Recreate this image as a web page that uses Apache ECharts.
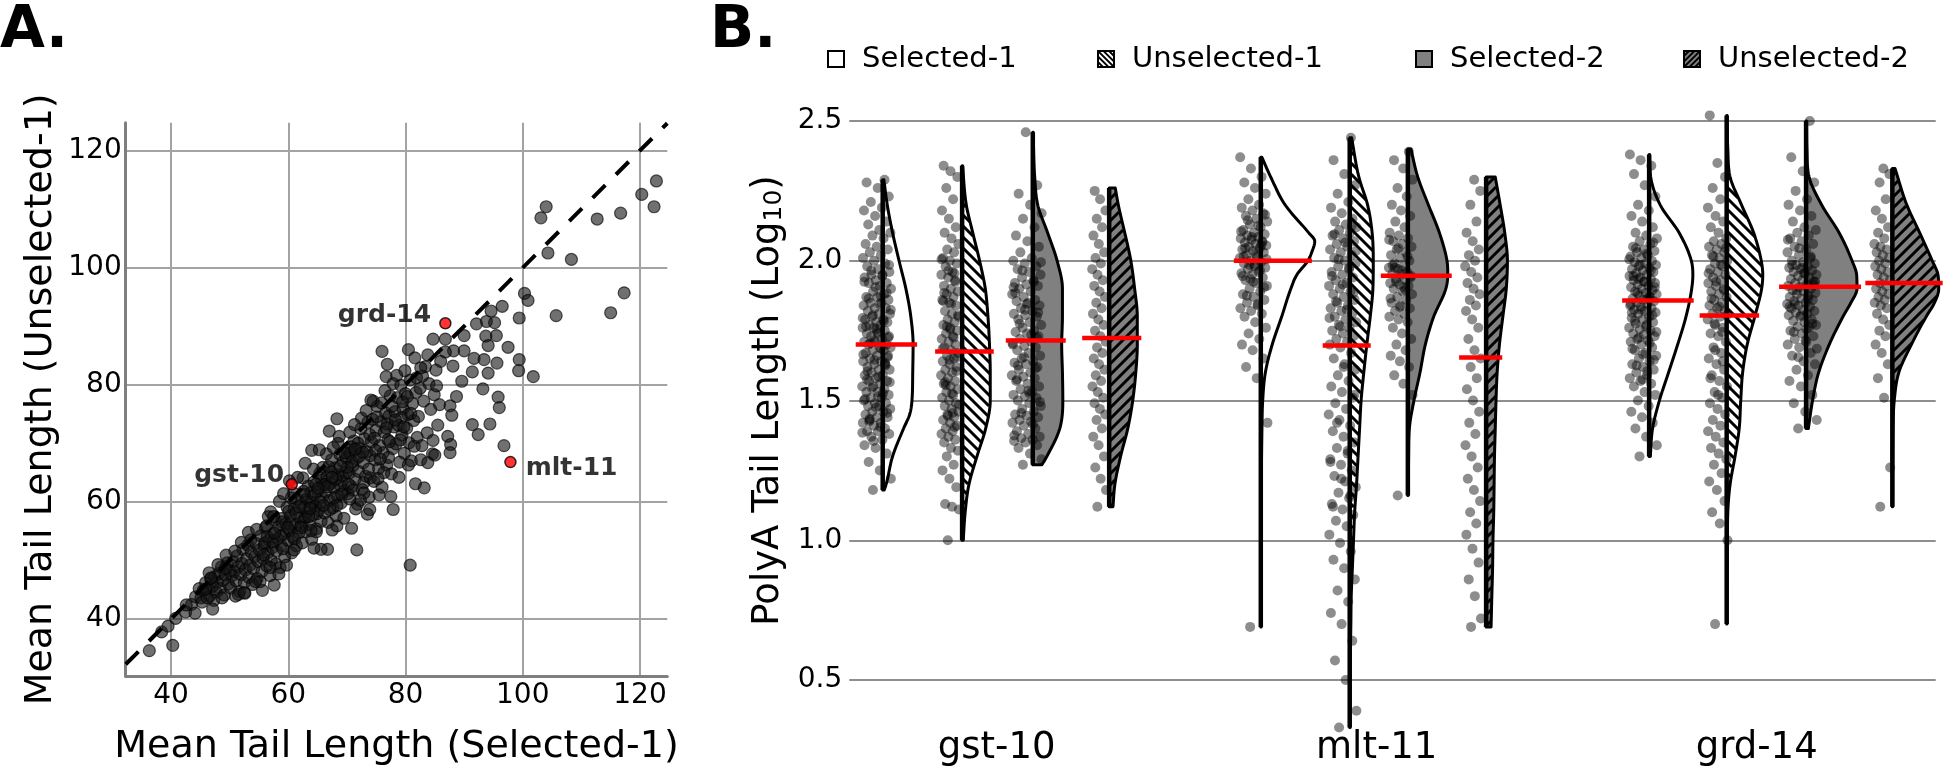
<!DOCTYPE html>
<html><head><meta charset="utf-8">
<script src="https://cdn.jsdelivr.net/npm/echarts@6/dist/echarts.min.js"></script>
<style>html,body{margin:0;padding:0;background:#fff;}#c{width:1952px;height:772px;}</style>
</head><body><div id="c"></div>
<script>
// ================= DATA =================
// ---- Panel A: mean tail length per gene ([Selected-1, Unselected-1]) ----
const SCATTER_POINTS = [
[43.5,42.5],[44.2,43.8],[44.8,45.2],[45.1,43.6],[45.5,44.9],[45.9,46.2],[45.3,42.9],[46.2,45.1],[46.6,43.9],[46.8,46.8],
[47.1,45.6],[47.4,47.2],[47.7,44.6],[47.9,46.3],[48.2,47.8],[48.4,45.2],[48.6,48.9],[48.9,46.6],[49.1,44.1],[49.3,47.5],[49.6,49.6],[49.8,46.0],[50.0,48.3],[47.3,43.2],[48.0,49.3],[49.4,50.9],[46.5,47.9],[48.7,43.6],
[50.2,45.3],[50.4,47.4],[50.6,49.8],[50.8,48.1],[51.1,46.5],[51.3,50.8],[51.5,48.9],[51.7,44.7],[51.9,47.6],[52.1,49.5],[52.3,51.9],[52.5,46.2],[52.7,48.4],[52.9,50.3],[53.1,52.6],[53.3,47.1],[53.5,49.2],[53.7,51.4],[53.9,45.9],[50.9,51.6],[52.0,53.1],[53.6,53.5],[51.0,43.9],[52.6,44.4],[53.2,54.8],
[54.1,48.6],[54.3,50.7],[54.5,52.9],[54.7,46.9],[54.9,49.8],[55.1,51.8],[55.3,54.2],[55.5,48.1],[55.7,50.3],[55.9,52.4],[56.1,55.6],[56.3,49.1],[56.5,51.3],[56.7,53.5],[56.9,47.4],[57.1,50.0],[57.3,52.2],[57.5,54.6],[57.7,56.9],[57.9,49.4],[54.6,55.3],[55.6,44.9],[56.6,57.5],[57.6,45.8],[55.2,46.4],[56.0,53.0],[57.0,58.3],[58.0,51.6],
[58.2,53.7],[58.4,55.8],[58.6,48.8],[58.8,52.6],[59.0,57.2],[59.2,54.5],[59.4,50.6],[59.6,56.3],[59.8,59.1],[60.0,53.4],[60.2,55.1],[60.4,57.6],[60.6,51.3],[60.8,54.0],[61.0,58.8],[61.2,56.0],[61.4,52.5],[61.6,60.4],[61.8,54.7],[62.0,57.3],[58.5,60.1],[60.5,60.7],[59.1,52.0],[60.1,58.4],[61.1,53.7],[62.1,55.9],[58.9,56.6],[60.9,61.5],
[62.2,59.6],[62.4,53.0],[62.6,56.8],[62.8,61.3],[63.0,54.9],[63.2,58.2],[63.4,62.7],[63.6,56.1],[63.8,60.0],[64.0,53.6],[64.2,57.7],[64.4,63.4],[64.6,59.3],[64.8,55.4],[65.0,61.8],[65.2,58.6],[65.4,64.9],[65.6,56.7],[65.8,60.7],[66.0,62.9],[62.5,64.1],[64.3,65.6],[62.9,57.4],[63.9,61.6],[64.9,58.0],[65.9,65.9],[62.3,55.6],[64.1,59.9],[65.7,63.7],[63.1,60.4],
[66.2,58.1],[66.4,61.7],[66.6,64.3],[66.8,56.5],[67.0,60.2],[67.2,63.1],[67.4,67.2],[67.6,59.0],[67.8,62.4],[68.0,65.8],[68.2,57.6],[68.4,61.0],[68.6,64.6],[68.8,68.1],[69.0,59.8],[69.2,63.5],[69.4,66.9],[69.6,61.9],[69.8,65.0],[70.0,69.0],[66.5,68.2],[67.5,55.2],[68.5,70.0],[69.5,57.2],[66.9,66.0],[67.9,60.7],[68.9,62.8],[69.9,67.5],[66.3,63.0],[67.3,65.1],[68.3,59.4],[69.3,64.4],[67.7,69.3],[68.7,71.2],
[70.2,61.4],[70.4,64.9],[70.6,68.3],[70.8,62.6],[71.0,66.1],[71.2,70.4],[71.4,63.9],[71.6,67.4],[71.8,59.6],[72.0,65.2],[72.2,69.2],[72.4,72.5],[72.6,62.1],[72.8,66.7],[73.0,70.8],[73.2,64.4],[73.4,68.6],[73.6,73.6],[73.8,60.8],[74.0,67.9],[70.5,71.9],[71.5,58.8],[72.5,74.3],[73.5,57.9],[70.9,66.9],[71.9,70.0],[72.9,63.3],[73.9,71.5],[70.3,63.0],[71.3,73.2],[72.3,60.3],[73.3,75.6],[74.0,64.1],[72.1,67.8],[70.7,69.4],[73.9,58.7],
[74.2,70.2],[74.4,74.1],[74.6,63.5],[74.8,67.2],[75.0,72.2],[75.2,76.3],[75.4,65.7],[75.6,69.6],[75.8,73.7],[76.0,62.5],[76.2,68.4],[76.4,71.9],[76.6,75.2],[76.8,66.3],[77.0,70.6],[77.2,74.7],[77.4,78.1],[77.6,64.8],[77.8,69.1],[78.0,72.8],[74.5,77.2],[75.5,61.2],[76.5,79.0],[77.5,60.9],[74.9,68.8],[75.9,76.9],[76.9,73.3],[77.9,80.2],[75.3,64.0],[76.3,65.0],[77.1,67.6],[76.7,81.4],
[78.2,75.4],[78.4,69.9],[78.6,77.8],[78.8,73.1],[79.0,66.8],[79.2,79.9],[79.4,71.4],[79.6,75.9],[79.8,68.3],[80.0,78.5],[80.2,72.6],[80.4,74.9],[80.6,70.1],[80.8,80.8],[81.0,67.0],[81.2,76.8],[81.4,73.9],[81.8,78.7],[82.0,71.0],[78.5,81.6],[79.5,77.1],[80.5,66.3],[81.5,69.5],[78.9,64.2],[79.9,82.4],[80.9,75.1],[81.9,81.2],[79.3,74.4],[80.3,78.0],
[82.2,74.6],[82.5,79.4],[82.8,69.6],[83.1,77.2],[83.4,83.1],[83.7,71.8],[84.0,80.2],[84.3,75.8],[84.6,68.2],[84.9,78.3],[85.2,82.5],[85.5,73.1],[85.8,76.6],[82.6,67.2],[83.8,85.1],[84.7,70.5],[85.3,79.8],[86.0,84.0],[82.9,81.5],
[64.0,68.8],[65.3,68.9],[67.0,72.1],[68.3,74.2],[74.1,77.4],[62.9,66.6],[61.6,64.2],[60.2,63.6],[59.2,61.4],
[60.3,56.2],[61.3,58.1],[62.7,59.0],[63.5,57.5],[64.5,61.2],[65.5,60.0],[66.7,62.6],[67.1,58.7],[68.1,63.9],[69.1,61.3],[70.1,65.9],[71.1,62.0],[72.7,68.5],[73.7,65.6],[74.7,70.9],[75.7,67.3],[76.7,72.6],[77.3,70.3],[78.3,74.0],[79.1,70.6],[69.6,68.4],[71.4,69.0],[66.0,59.4],[63.7,58.9],[59.9,55.6],[57.4,53.2],[55.8,51.0],[58.7,54.2],[61.9,59.2],[64.7,63.0],[67.5,64.2],[70.5,60.5],[72.9,61.5],[75.1,74.5],[77.7,76.3],[79.7,72.8],[68.9,66.1],[65.1,62.3],[62.6,61.8],[56.4,54.1],
[122.8,114.8],[120.3,112.5],[122.4,110.4],[104.0,110.4],[103.1,108.5],[112.7,108.3],[116.7,109.3],[104.3,102.5],[108.3,101.4],[117.3,95.7],[115.0,92.3],[105.7,91.8],[100.3,95.6],[100.9,94.4],[99.4,91.4],[96.5,93.4],[94.6,92.6],[93.8,90.8],[95.2,90.6],[92.1,90.4],[95.5,88.4],[93.7,88.3],[94.1,86.7],[97.5,86.4],[91.7,84.5],[93.4,84.3],[95.6,83.7],[94.1,82.0],[99.4,84.3],[99.3,82.4],[101.8,81.4],[90.0,88.4],[90.0,85.8],[88.2,85.8],[86.8,87.8],[84.7,87.8],[86.8,85.6],[88.1,83.2],[89.6,80.6],[91.4,82.2],[93.2,79.3],[95.8,77.9],[96.0,76.1],[91.4,73.2],[92.4,71.5],[94.4,73.3],[96.8,69.6],[88.7,78.0],[87.6,76.4],[87.9,74.8],[87.2,71.2],[87.7,69.8],[87.6,68.4],[85.0,68.0],[83.8,66.7],[81.7,63.1],[83.2,62.4],[77.9,58.7],[80.8,49.2],[71.7,51.8],[66.7,51.9],[65.6,51.9],[64.4,52.1],[64.8,54.9],[63.9,55.1],[68.3,55.9],[70.8,55.5],[76.0,85.7],[76.9,83.5],[80.5,86.0],[81.6,84.6],[82.6,82.9],[36.3,34.6],[40.3,35.5],[38.4,37.8],[39.5,38.8],[40.8,40.1],[42.5,41.2],[44.1,41.0],[42.6,42.4],[47.1,41.7],[46.2,43.6],[45.9,45.1],[46.8,47.0],[49.3,48.7],[51.5,44.2],[52.5,44.5],[54.4,46.4],[58.4,47.7],[59.7,49.2],[56.9,48.8],[61.0,51.8],[57.5,57.5],[56.3,55.9],[57.7,54.7]
];
const HIGHLIGHT_NAMES = ['gst-10', 'grd-14', 'mlt-11'];
const HIGHLIGHT_X = [60.6, 86.8, 97.9];
const HIGHLIGHT_Y = [63.0, 90.5, 66.8];

// ---- Panel B ----
const CATEGORIES = ['gst-10', 'mlt-11', 'grd-14'];
const GROUPS = ['Selected-1', 'Unselected-1', 'Selected-2', 'Unselected-2'];
const Y_TICKS_B = [0.5, 1.0, 1.5, 2.0, 2.5];

// log10 poly(A) tail lengths (strip points)
const PTS_GST10_S1 = [1.18,1.22,1.25,1.28,1.31,1.33,1.34,1.36,1.37,1.38,1.39,1.39,1.40,1.41,1.42,1.42,1.43,1.44,1.44,1.45,1.46,1.46,1.47,1.48,1.48,1.49,1.49,1.50,1.51,1.51,1.52,1.53,1.53,1.54,1.55,1.55,1.56,1.57,1.57,1.58,1.59,1.59,1.60,1.61,1.61,1.62,1.63,1.63,1.64,1.64,1.65,1.66,1.66,1.67,1.68,1.68,1.69,1.69,1.70,1.70,1.71,1.71,1.72,1.73,1.73,1.74,1.74,1.75,1.76,1.76,1.77,1.77,1.78,1.78,1.79,1.79,1.80,1.81,1.81,1.82,1.83,1.83,1.84,1.85,1.85,1.86,1.87,1.87,1.88,1.89,1.90,1.91,1.92,1.92,1.93,1.94,1.95,1.95,1.96,1.97,1.98,1.99,2.00,2.01,2.02,2.03,2.04,2.05,2.06,2.08,2.09,2.10,2.11,2.13,2.14,2.16,2.18,2.19,2.21,2.23,2.26,2.28,2.29,
  1.355,1.385,1.405,1.425,1.455,1.475,1.505,1.525,1.545,1.565,1.585,1.605,1.625,1.645,1.665,1.685,1.705,1.725,1.745,1.765,1.785,1.805,1.825,1.845,1.865,1.885,1.905,1.925,1.945,1.965,1.985,1.515,1.575,1.635,1.715,1.795,1.875,1.435,1.655,1.755];
const PTS_GST10_U1 = [1.00,1.11,1.12,1.13,1.19,1.22,1.25,1.27,1.30,1.32,1.33,1.35,1.36,1.37,1.38,1.39,1.40,1.41,1.42,1.43,1.44,1.45,1.46,1.47,1.48,1.49,1.50,1.51,1.52,1.53,1.54,1.55,1.56,1.57,1.58,1.59,1.60,1.61,1.62,1.63,1.64,1.65,1.66,1.67,1.68,1.69,1.70,1.71,1.72,1.73,1.74,1.75,1.76,1.77,1.78,1.79,1.80,1.81,1.82,1.84,1.85,1.86,1.87,1.88,1.89,1.90,1.91,1.93,1.94,1.95,1.96,1.98,1.99,2.00,2.01,2.03,2.04,2.06,2.08,2.10,2.12,2.15,2.18,2.22,2.26,2.30,2.32,2.34,
  1.405,1.445,1.485,1.525,1.565,1.605,1.645,1.685,1.725,1.765,1.805,1.845,1.885,1.925,1.965,2.005,1.455,1.555,1.655,1.755,1.855,1.955];
const PTS_GST10_S2 = [1.27,1.29,1.31,1.33,1.34,1.35,1.355,1.36,1.365,1.37,1.38,1.39,1.40,1.41,1.42,1.425,1.43,1.44,1.445,1.45,1.46,1.47,1.48,1.49,1.50,1.51,1.515,1.52,1.53,1.54,1.55,1.56,1.57,1.58,1.585,1.59,1.60,1.61,1.62,1.63,1.635,1.64,1.65,1.66,1.67,1.68,1.69,1.695,1.70,1.71,1.72,1.73,1.74,1.745,1.75,1.76,1.77,1.78,1.79,1.80,1.805,1.81,1.82,1.83,1.84,1.85,1.855,1.86,1.87,1.88,1.89,1.90,1.91,1.915,1.92,1.93,1.94,1.95,1.96,1.97,1.98,1.99,2.00,2.01,2.03,2.05,2.07,2.09,2.12,2.15,2.17,2.20,2.24,2.27,2.46,
  1.375,1.415,1.455,1.495,1.535,1.575,1.615,1.655,1.705,1.735,1.775,1.815,1.845,1.885,1.925,1.965,1.995,1.525,1.625,1.725,1.825,1.905];
const PTS_GST10_U2 = [1.12,1.18,1.22,1.26,1.30,1.34,1.37,1.40,1.43,1.45,1.47,1.49,1.51,1.53,1.55,1.57,1.59,1.61,1.63,1.65,1.67,1.69,1.71,1.73,1.75,1.77,1.79,1.81,1.83,1.85,1.87,1.89,1.91,1.93,1.95,1.97,1.99,2.01,2.03,2.06,2.09,2.12,2.15,2.18,2.22,2.25];
const PTS_MLT11_S1 = [0.69,1.42,1.58,1.62,1.65,1.68,1.70,1.72,1.74,1.76,1.78,1.80,1.81,1.82,1.83,1.84,1.85,1.86,1.87,1.88,1.89,1.90,1.91,1.92,1.93,1.94,1.95,1.955,1.96,1.97,1.975,1.98,1.99,1.995,2.00,2.01,2.015,2.02,2.03,2.035,2.04,2.045,2.05,2.055,2.06,2.065,2.07,2.075,2.08,2.085,2.09,2.095,2.10,2.11,2.12,2.13,2.14,2.15,2.16,2.17,2.18,2.19,2.20,2.22,2.24,2.26,2.28,2.30,2.33,2.37,
  1.845,1.875,1.905,1.925,1.945,1.965,1.985,2.005,2.025,2.045,2.065,2.085,2.105,2.125,2.145,2.165,1.985,2.015,2.055,1.935];
const PTS_MLT11_U1 = [0.33,0.39,0.50,0.57,0.64,0.70,0.74,0.78,0.82,0.86,0.90,0.93,0.96,0.99,1.02,1.05,1.07,1.09,1.11,1.13,1.15,1.17,1.19,1.21,1.23,1.25,1.27,1.29,1.31,1.33,1.35,1.37,1.39,1.41,1.43,1.45,1.47,1.49,1.51,1.53,1.55,1.57,1.59,1.61,1.63,1.65,1.67,1.69,1.70,1.71,1.72,1.73,1.74,1.75,1.76,1.77,1.78,1.79,1.80,1.81,1.82,1.83,1.84,1.85,1.86,1.87,1.88,1.89,1.90,1.91,1.92,1.93,1.94,1.95,1.96,1.97,1.98,1.99,2.00,2.01,2.02,2.03,2.04,2.05,2.06,2.07,2.08,2.09,2.10,2.11,2.12,2.13,2.14,2.15,2.17,2.19,2.21,2.24,2.27,2.31,2.36,2.44,
  1.765,1.795,1.825,1.855,1.885,1.915,1.945,1.975,2.005,2.035,2.065,2.095,2.125,1.22,1.28,1.32,1.42,1.52,1.62,1.12,1.16];
const PTS_MLT11_S2 = [1.16,1.52,1.56,1.59,1.62,1.64,1.66,1.68,1.70,1.72,1.74,1.76,1.78,1.79,1.80,1.81,1.82,1.83,1.84,1.85,1.86,1.87,1.88,1.89,1.90,1.91,1.915,1.92,1.93,1.935,1.94,1.95,1.955,1.96,1.97,1.975,1.98,1.99,2.00,2.01,2.02,2.03,2.04,2.05,2.06,2.07,2.08,2.09,2.10,2.12,2.14,2.16,2.18,2.20,2.23,2.26,2.29,2.33,2.36,2.39,
  1.835,1.865,1.895,1.925,1.945,1.965,1.985,2.015,2.045,2.075,1.905,1.975];
const PTS_MLT11_U2 = [0.69,0.72,0.80,0.86,0.92,0.97,1.02,1.06,1.10,1.14,1.18,1.22,1.26,1.30,1.34,1.38,1.42,1.46,1.50,1.54,1.58,1.62,1.65,1.68,1.72,1.76,1.79,1.82,1.84,1.86,1.88,1.90,1.92,1.94,1.96,1.98,2.00,2.02,2.04,2.07,2.10,2.14,2.20,2.25,2.29];
const PTS_GRD14_S1 = [1.30,1.34,1.37,1.40,1.42,1.44,1.46,1.48,1.50,1.52,1.53,1.55,1.56,1.57,1.58,1.59,1.60,1.61,1.62,1.63,1.64,1.65,1.66,1.67,1.68,1.69,1.70,1.71,1.715,1.72,1.73,1.735,1.74,1.75,1.755,1.76,1.77,1.775,1.78,1.79,1.795,1.80,1.81,1.815,1.82,1.825,1.83,1.835,1.84,1.845,1.85,1.855,1.86,1.865,1.87,1.875,1.88,1.885,1.89,1.895,1.90,1.905,1.91,1.915,1.92,1.925,1.93,1.935,1.94,1.945,1.95,1.955,1.96,1.965,1.97,1.975,1.98,1.985,1.99,1.995,2.00,2.01,2.015,2.02,2.03,2.035,2.04,2.05,2.06,2.07,2.08,2.09,2.10,2.12,2.14,2.16,2.18,2.20,2.23,2.27,2.31,2.34,2.36,2.38,
  1.605,1.625,1.645,1.665,1.685,1.705,1.725,1.745,1.765,1.785,1.805,1.825,1.845,1.865,1.885,1.905,1.925,1.945,1.965,1.985,2.005,2.025,2.045,2.065,1.575,1.815,1.875,1.935];
const PTS_GRD14_U1 = [0.70,1.00,1.06,1.10,1.14,1.18,1.21,1.24,1.27,1.29,1.31,1.33,1.35,1.37,1.39,1.41,1.43,1.45,1.47,1.49,1.51,1.53,1.55,1.57,1.59,1.61,1.63,1.65,1.67,1.69,1.71,1.73,1.74,1.76,1.77,1.79,1.80,1.81,1.82,1.83,1.84,1.85,1.86,1.87,1.88,1.89,1.90,1.91,1.92,1.93,1.94,1.95,1.96,1.97,1.98,1.99,2.00,2.01,2.02,2.03,2.04,2.05,2.06,2.07,2.08,2.10,2.12,2.14,2.16,2.19,2.22,2.26,2.30,2.35,2.52,
  1.745,1.775,1.805,1.835,1.865,1.895,1.925,1.955,1.985,2.015,2.045,1.52,1.58,1.64,1.68];
const PTS_GRD14_S2 = [1.40,1.43,1.46,1.49,1.52,1.55,1.57,1.59,1.61,1.63,1.64,1.66,1.67,1.69,1.70,1.71,1.72,1.73,1.74,1.75,1.76,1.765,1.77,1.78,1.785,1.79,1.80,1.805,1.81,1.815,1.82,1.825,1.83,1.835,1.84,1.845,1.85,1.855,1.86,1.865,1.87,1.875,1.88,1.885,1.89,1.895,1.90,1.905,1.91,1.915,1.92,1.925,1.93,1.935,1.94,1.945,1.95,1.955,1.96,1.965,1.97,1.975,1.98,1.985,1.99,1.995,2.00,2.01,2.02,2.03,2.04,2.05,2.06,2.07,2.08,2.09,2.10,2.11,2.12,2.14,2.16,2.18,2.20,2.22,2.25,2.28,2.32,2.37,2.50,
  1.655,1.685,1.715,1.745,1.775,1.805,1.835,1.865,1.895,1.925,1.955,1.985,2.015,2.045,2.075,1.755,1.845,1.915,1.975];
const PTS_GRD14_U2 = [1.12,1.26,1.51,1.58,1.63,1.67,1.70,1.73,1.75,1.77,1.79,1.81,1.83,1.84,1.85,1.86,1.87,1.88,1.89,1.90,1.91,1.92,1.93,1.94,1.95,1.96,1.97,1.98,1.99,2.00,2.01,2.02,2.03,2.04,2.05,2.06,2.08,2.10,2.12,2.15,2.18,2.22,2.28,2.31,2.33];

// violin density profiles: [log10 length, half-width in category units]
const VIO_GST10_S1 = [[1.18,.004],[1.2,.009],[1.3,.026],[1.4,.055],[1.45,.071],[1.5,.077],[1.6,.079],[1.7,.080],[1.8,.074],[1.9,.061],[2.0,.043],[2.1,.026],[2.2,.012],[2.29,.003]];
const VIO_GST10_U1 = [[1.0,.003],[1.1,.008],[1.2,.018],[1.3,.039],[1.4,.062],[1.5,.074],[1.6,.074],[1.7,.072],[1.8,.068],[1.9,.061],[2.0,.046],[2.1,.028],[2.2,.011],[2.34,.001]];
const VIO_GST10_S2 = [[1.27,.024],[1.3,.037],[1.4,.071],[1.5,.079],[1.6,.078],[1.7,.076],[1.8,.078],[1.9,.078],[2.0,.064],[2.1,.039],[2.2,.013],[2.3,.005],[2.46,.001]];
const VIO_GST10_U2 = [[1.12,.010],[1.2,.015],[1.3,.030],[1.4,.049],[1.5,.062],[1.6,.070],[1.7,.074],[1.8,.074],[1.9,.067],[2.0,.057],[2.1,.041],[2.2,.024],[2.26,.016]];
const VIO_MLT11_S1 = [[0.69,.001],[1.0,.001],[1.4,.003],[1.5,.005],[1.6,.012],[1.7,.030],[1.8,.055],[1.9,.079],[1.95,.095],[2.0,.124],[2.03,.134],[2.07,.142],[2.1,.126],[2.2,.064],[2.3,.026],[2.37,.003]];
const VIO_MLT11_U1 = [[0.33,.001],[0.5,.001],[0.7,.003],[0.8,.004],[0.9,.007],[1.0,.010],[1.1,.013],[1.2,.018],[1.3,.022],[1.4,.026],[1.5,.030],[1.6,.037],[1.7,.045],[1.8,.054],[1.9,.061],[2.0,.062],[2.1,.059],[2.2,.047],[2.3,.024],[2.44,.005]];
const VIO_MLT11_S2 = [[1.16,.001],[1.3,.002],[1.4,.004],[1.5,.016],[1.6,.032],[1.7,.046],[1.8,.068],[1.9,.100],[1.95,.105],[2.0,.103],[2.1,.083],[2.2,.054],[2.3,.026],[2.40,.008]];
const VIO_MLT11_U2 = [[0.69,.013],[0.8,.015],[0.9,.017],[1.0,.018],[1.1,.020],[1.2,.021],[1.3,.022],[1.4,.024],[1.5,.026],[1.6,.029],[1.7,.035],[1.8,.044],[1.9,.053],[2.0,.056],[2.1,.049],[2.2,.037],[2.30,.024]];
const VIO_GRD14_S1 = [[1.3,.003],[1.4,.009],[1.5,.027],[1.6,.051],[1.7,.075],[1.8,.097],[1.9,.112],[1.95,.115],[2.0,.111],[2.1,.079],[2.2,.029],[2.3,.004],[2.38,.001]];
const VIO_GRD14_U1 = [[0.7,.001],[1.0,.002],[1.1,.003],[1.2,.009],[1.3,.022],[1.4,.033],[1.5,.037],[1.6,.042],[1.7,.054],[1.8,.074],[1.9,.092],[1.95,.095],[2.0,.091],[2.1,.071],[2.2,.039],[2.3,.009],[2.4,.003],[2.52,.001]];
const VIO_GRD14_S2 = [[1.4,.006],[1.5,.017],[1.6,.033],[1.7,.061],[1.8,.097],[1.85,.118],[1.9,.134],[1.95,.133],[2.0,.121],[2.1,.087],[2.2,.041],[2.3,.008],[2.4,.002],[2.50,.001]];
const VIO_GRD14_U2 = [[1.12,.001],[1.4,.002],[1.5,.005],[1.6,.017],[1.7,.050],[1.8,.089],[1.85,.111],[1.9,.122],[1.95,.120],[2.0,.105],[2.1,.072],[2.2,.038],[2.33,.007]];

// medians (log10), per category [gst-10, mlt-11, grd-14]
const MEDIAN_S1 = [1.700, 2.000, 1.858];
const MEDIAN_U1 = [1.675, 1.697, 1.804];
const MEDIAN_S2 = [1.715, 1.946, 1.907];
const MEDIAN_U2 = [1.724, 1.654, 1.920];

// ================= LAYOUT / STYLE =================
const FONT = 'DejaVu Sans';
const A_GRID = {left: 125.7, top: 122.7, width: 541.6, height: 553.3};
const A_X = [32.27, 124.66], A_Y = [30.27, 124.75];
const B_GRID = {left: 849.3, top: 121, width: 1086.4, height: 559};
const B_X = [-0.3879, 2.4711];
const B_UNIT_PX = B_GRID.width / (B_X[1] - B_X[0]);
const C_GRID = {left: 806.7, top: 121, width: 1140, height: 559};
const HUE_OFFSETS = [[-0.300,-0.091,0.095,0.296],[-0.305,-0.071,0.082,0.288],[-0.283,-0.079,0.130,0.357]];
const STRIP_LAYOUT = [[[-6,14.5],[-12,9],[-6,15],[-10,7]],[[-7,14],[-7,14],[-7,12],[-13,8]],[[-6,14],[-9,10],[-4,15],[-10,8]]];
const FILLS = ['#ffffff', '#ffffff', '#808080', '#808080'];
const HATCH = [null, '\\', null, '/'];
const HATCH_SPACING = 11;
const LEGEND_X = [828, 1098, 1416, 1684];
const LEGEND_Y = 59, LEGEND_SQ = 16;
const LBL_POS = ['left', 'left', 'right'], LBL_DIST = [1.5, 8, 9], LBL_OFF = [[0,-8.5],[0,-8],[0,6]];

const PROFILES = [
  [VIO_GST10_S1, VIO_MLT11_S1, VIO_GRD14_S1],
  [VIO_GST10_U1, VIO_MLT11_U1, VIO_GRD14_U1],
  [VIO_GST10_S2, VIO_MLT11_S2, VIO_GRD14_S2],
  [VIO_GST10_U2, VIO_MLT11_U2, VIO_GRD14_U2]];
const STRIPS = [
  [PTS_GST10_S1, PTS_MLT11_S1, PTS_GRD14_S1],
  [PTS_GST10_U1, PTS_MLT11_U1, PTS_GRD14_U1],
  [PTS_GST10_S2, PTS_MLT11_S2, PTS_GRD14_S2],
  [PTS_GST10_U2, PTS_MLT11_U2, PTS_GRD14_U2]];
const MEDIANS = [MEDIAN_S1, MEDIAN_U1, MEDIAN_S2, MEDIAN_U2];

function hermite(prof) {
  const n = prof.length, ys = prof.map(p => p[0]), ws = prof.map(p => p[1]);
  const d = [], m = new Array(n);
  for (let i = 0; i < n - 1; i++) d.push((ws[i+1] - ws[i]) / (ys[i+1] - ys[i]));
  m[0] = d[0]; m[n-1] = d[n-2];
  for (let i = 1; i < n - 1; i++) m[i] = (d[i-1] * d[i] <= 0) ? 0 : (d[i-1] + d[i]) / 2;
  for (let i = 0; i < n - 1; i++) {
    if (d[i] === 0) { m[i] = 0; m[i+1] = 0; continue; }
    const a = m[i] / d[i], b = m[i+1] / d[i], s = a*a + b*b;
    if (s > 9) { const t = 3 / Math.sqrt(s); m[i] = t*a*d[i]; m[i+1] = t*b*d[i]; }
  }
  return function (y) {
    if (y <= ys[0]) return ws[0];
    if (y >= ys[n-1]) return ws[n-1];
    let i = 0; while (y > ys[i+1]) i++;
    const h = ys[i+1] - ys[i], t = (y - ys[i]) / h, t2 = t*t, t3 = t2*t;
    return (2*t3 - 3*t2 + 1)*ws[i] + (t3 - 2*t2 + t)*h*m[i] + (-2*t3 + 3*t2)*ws[i+1] + (t3 - t2)*h*m[i+1];
  };
}
const PROFILE_FN = PROFILES.map(row => row.map(hermite));

function violinRender(h) {
  return function (params, api) {
    const ci = api.value(0);
    const prof = PROFILES[h][ci], f = PROFILE_FN[h][ci];
    const xc = ci + HUE_OFFSETS[ci][h];
    const yLo = prof[0][0], yHi = prof[prof.length-1][0];
    const pTop = api.coord([xc, yHi]), pBot = api.coord([xc, yLo]);
    const cx = pTop[0];
    const sx = api.size([1, 0])[0];
    const n = Math.max(2, Math.ceil((pBot[1] - pTop[1]) / 1.5));
    const edge = [];
    for (let k = 0; k <= n; k++) {
      const y = yHi - (yHi - yLo) * k / n;
      edge.push([cx + Math.max(0, f(y)) * sx, api.coord([xc, y])[1]]);
    }
    const poly = [[cx, pTop[1]]].concat(edge, [[cx, pBot[1]]]);
    const children = [{type: 'polygon', shape: {points: poly}, style: {fill: FILLS[h], stroke: null}}];
    if (HATCH[h]) {
      const y0 = Math.ceil(pTop[1]), y1 = Math.floor(pBot[1]);
      const R = []; let j = 0, maxR = cx;
      for (let py = y0; py <= y1; py++) {
        while (j < edge.length - 2 && edge[j+1][1] < py) j++;
        const a = edge[j], b = edge[j+1];
        const t = b[1] === a[1] ? 0 : (py - a[1]) / (b[1] - a[1]);
        const r = a[0] + (b[0] - a[0]) * Math.min(1, Math.max(0, t));
        R.push(r); if (r > maxR) maxR = r;
      }
      const S = HATCH_SPACING, sign = HATCH[h] === '\\' ? 1 : -1;
      const bStart = sign === 1 ? cx - y1 : cx + y0;
      const bEnd = sign === 1 ? maxR - y0 : maxR + y1;
      const pushSeg = (s, e) => { if (e[1] - s[1] >= 1) children.push({type: 'line', shape: {x1: s[0], y1: s[1], x2: e[0], y2: e[1]}, style: {stroke: '#000', lineWidth: 3}}); };
      for (let bb = Math.floor(bStart / S) * S; bb <= bEnd; bb += S) {
        let s = null, last = null;
        for (let py = y0; py <= y1; py++) {
          const x = bb + sign * py;
          if (x >= cx && x <= R[py - y0]) { if (!s) s = [x, py]; last = [x, py]; }
          else if (s) { pushSeg(s, last); s = null; }
        }
        if (s) pushSeg(s, last);
      }
    }
    children.push({type: 'polygon', shape: {points: poly}, style: {fill: 'none', stroke: '#000', lineWidth: 3, lineJoin: 'round'}});
    children.push({type: 'line', shape: {x1: cx, y1: pTop[1], x2: cx, y2: pBot[1]}, style: {stroke: '#000', lineWidth: 4.5}});
    return {type: 'group', children: children};
  };
}

function jit(i) { const v = (i * 0.6180339887 + 0.37) % 1; return v * 2 - 1; }

const series = [];
series.push({type: 'scatter', xAxisIndex: 0, yAxisIndex: 0, z: 2, symbolSize: 12,
  data: SCATTER_POINTS,
  itemStyle: {color: 'rgba(20,20,20,0.76)', borderColor: 'rgba(0,0,0,0.8)', borderWidth: 1.2}, silent: true});
series.push({type: 'line', xAxisIndex: 0, yAxisIndex: 0, z: 3, symbol: 'none', silent: true,
  data: [[A_X[0], A_X[0]], [A_X[1], A_X[1]]],
  lineStyle: {color: '#000', width: 4, type: [18, 15]}});
series.push({type: 'scatter', xAxisIndex: 0, yAxisIndex: 0, z: 4, symbolSize: 11, silent: true,
  data: HIGHLIGHT_NAMES.map((nm, i) => ({name: nm, value: [HIGHLIGHT_X[i], HIGHLIGHT_Y[i]],
    label: {position: LBL_POS[i], distance: LBL_DIST[i], offset: LBL_OFF[i]}})),
  itemStyle: {color: '#ff0000', borderColor: '#000', borderWidth: 1.5},
  label: {show: true, formatter: '{b}', fontSize: 25, fontWeight: 'bold', color: '#000', fontFamily: FONT}});
for (let h = 0; h < 4; h++) {
  series.push({type: 'custom', name: GROUPS[h], xAxisIndex: 1, yAxisIndex: 1, z: 2, silent: true,
    renderItem: violinRender(h), data: CATEGORIES.map((c, i) => [i, 1.5]), encode: {x: 0, y: 1}});
}
for (let h = 0; h < 4; h++) {
  const data = [];
  for (let ci = 0; ci < 3; ci++) {
    const arr = STRIPS[h][ci], L = STRIP_LAYOUT[ci][h];
    arr.forEach((v, i) => data.push([ci + HUE_OFFSETS[ci][h] + (L[0] + L[1] * jit(i)) / B_UNIT_PX, v]));
  }
  series.push({type: 'scatter', xAxisIndex: 1, yAxisIndex: 1, z: 3, symbolSize: 10, clip: false, silent: true,
    data: data, itemStyle: {color: 'rgba(0,0,0,0.56)', borderWidth: 0}});
}
const medData = [];
for (let h = 0; h < 4; h++) for (let ci = 0; ci < 3; ci++) medData.push([ci, MEDIANS[h][ci], h]);
series.push({type: 'custom', xAxisIndex: 1, yAxisIndex: 1, z: 4, silent: true, data: medData, encode: {x: 0, y: 1},
  renderItem: function (params, api) {
    const ci = api.value(0), med = api.value(1), h = api.value(2);
    const p = api.coord([ci + HUE_OFFSETS[ci][h], med]);
    const w = PROFILE_FN[h][ci](med) * api.size([1, 0])[0];
    return {type: 'line', shape: {x1: p[0] - 27, y1: p[1], x2: p[0] + w + 4, y2: p[1]}, style: {stroke: '#ff0000', lineWidth: 4.5}};
  }});

const graphics = [];
GROUPS.forEach((g, i) => {
  const x = LEGEND_X[i], y = LEGEND_Y - LEGEND_SQ / 2, S = LEGEND_SQ;
  graphics.push({type: 'rect', shape: {x: x, y: y, width: S, height: S}, style: {fill: FILLS[i], stroke: null}});
  if (HATCH[i] === '\\') {
    for (let c = -S + 5; c < S; c += 5.5) {
      const xa = Math.max(0, c), xb = Math.min(S, S + c);
      graphics.push({type: 'line', shape: {x1: x + xa, y1: y + xa - c, x2: x + xb, y2: y + xb - c}, style: {stroke: '#000', lineWidth: 1.8}});
    }
  } else if (HATCH[i] === '/') {
    for (let c = 5; c < 2 * S; c += 5.5) {
      const xa = Math.max(0, c - S), xb = Math.min(S, c);
      graphics.push({type: 'line', shape: {x1: x + xa, y1: y + c - xa, x2: x + xb, y2: y + c - xb}, style: {stroke: '#000', lineWidth: 1.8}});
    }
  }
  graphics.push({type: 'rect', shape: {x: x, y: y, width: S, height: S}, style: {fill: 'none', stroke: '#000', lineWidth: 2}});
  graphics.push({type: 'text', x: x + 34, y: LEGEND_Y, style: {text: g, fontSize: 29, fontFamily: FONT, fill: '#000',
    verticalAlign: 'middle', textVerticalAlign: 'middle', align: 'left', textAlign: 'left'}});
});

const tickLabel = {fontSize: 28, color: '#000', fontFamily: FONT};
const option = {
  animation: false,
  backgroundColor: '#ffffff',
  textStyle: {fontFamily: FONT},
  title: [
    {text: 'A.', left: 0, top: 3, padding: 0, textStyle: {fontSize: 58, fontWeight: 'bold', color: '#000', fontFamily: FONT}},
    {text: 'B.', left: 710, top: 3, padding: 0, textStyle: {fontSize: 58, fontWeight: 'bold', color: '#000', fontFamily: FONT}}
  ],
  grid: [
    Object.assign({outerBoundsMode: 'none', containLabel: false}, A_GRID),
    Object.assign({outerBoundsMode: 'none', containLabel: false}, B_GRID),
    Object.assign({outerBoundsMode: 'none', containLabel: false}, C_GRID)
  ],
  xAxis: [
    {gridIndex: 0, type: 'value', min: A_X[0], max: A_X[1], splitNumber: 5,
      axisLine: {show: true, onZero: false, lineStyle: {color: '#7f7f7f', width: 3}}, axisTick: {show: false},
      axisLabel: Object.assign({margin: 6, showMinLabel: false, showMaxLabel: false}, tickLabel),
      splitLine: {show: true, showMinLine: false, showMaxLine: false, lineStyle: {color: '#a3a3a3', width: 2}},
      name: 'Mean Tail Length (Selected-1)', nameLocation: 'middle', nameGap: 52,
      nameTextStyle: {fontSize: 38, color: '#000', fontFamily: FONT}},
    {gridIndex: 1, type: 'value', min: B_X[0], max: B_X[1], show: false},
    {gridIndex: 2, type: 'category', data: CATEGORIES, boundaryGap: true,
      axisLine: {show: false}, axisTick: {show: false}, splitLine: {show: false},
      axisLabel: {fontSize: 37, color: '#000', fontFamily: FONT, margin: 50}}
  ],
  yAxis: [
    {gridIndex: 0, type: 'value', min: A_Y[0], max: A_Y[1], splitNumber: 5,
      axisLine: {show: true, onZero: false, lineStyle: {color: '#7f7f7f', width: 3}}, axisTick: {show: false},
      axisLabel: Object.assign({margin: 4, showMinLabel: false, showMaxLabel: false}, tickLabel),
      splitLine: {show: true, showMinLine: false, showMaxLine: false, lineStyle: {color: '#a3a3a3', width: 2}},
      name: 'Mean Tail Length (Unselected-1)', nameLocation: 'middle', nameGap: 66,
      nameTextStyle: {fontSize: 38, color: '#000', fontFamily: FONT}},
    {gridIndex: 1, type: 'value', min: Y_TICKS_B[0], max: Y_TICKS_B[Y_TICKS_B.length-1], interval: 0.5,
      axisLine: {show: false}, axisTick: {show: false},
      axisLabel: Object.assign({margin: 7, formatter: v => v.toFixed(1)}, tickLabel),
      splitLine: {show: true, lineStyle: {color: '#8e8e8e', width: 2}},
      name: '{a|PolyA Tail Length (Log}{b|10}{a|)}', nameLocation: 'middle', nameGap: 60,
      nameTextStyle: {color: '#000', fontFamily: FONT, rich: {
        a: {fontSize: 37, lineHeight: 46, verticalAlign: 'bottom', fontFamily: FONT, color: '#000'},
        b: {fontSize: 25, lineHeight: 30, verticalAlign: 'bottom', fontFamily: FONT, color: '#000'}}}},
    {gridIndex: 2, type: 'value', min: 0, max: 1, show: false}
  ],
  graphic: graphics,
  series: series
};
const chart = echarts.init(document.getElementById('c'), null, {renderer: 'canvas'});
chart.setOption(option);
</script>
</body></html>
